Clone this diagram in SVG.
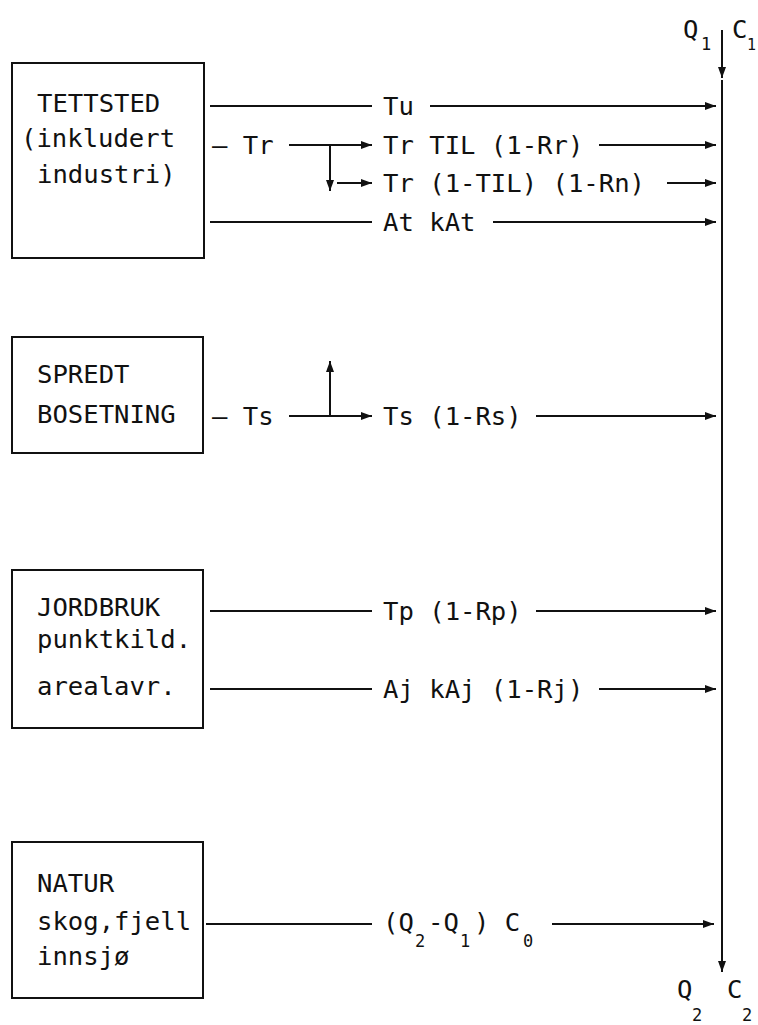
<svg xmlns="http://www.w3.org/2000/svg" width="758" height="1025" viewBox="0 0 758 1025">
<defs>
<marker id="ah" markerUnits="userSpaceOnUse" markerWidth="12" markerHeight="10" refX="11" refY="4" orient="auto">
<path d="M0,0 L11,4 L0,8 z" fill="#111"/>
</marker>
<style>
text{font-family:"DejaVu Sans Mono","Liberation Mono",monospace;font-size:25.6px;fill:#111}
text.sub{font-size:17px}
rect.box{fill:none;stroke:#111;stroke-width:2}
line{stroke:#111;stroke-width:2}
line.a{marker-end:url(#ah)}
</style>
</defs>
<rect width="758" height="1025" fill="#fff"/>

<g id="tettsted">
<rect class="box" x="12" y="63" width="192" height="195"/>
<text x="37" y="112">TETTSTED</text>
<text x="21" y="147">(inkludert</text>
<text x="37" y="183">industri)</text>
</g>

<g id="spredt">
<rect class="box" x="12" y="337" width="191" height="116"/>
<text x="37" y="383">SPREDT</text>
<text x="37" y="423">BOSETNING</text>
</g>

<g id="jordbruk">
<rect class="box" x="12" y="570" width="191" height="158"/>
<text x="37" y="616">JORDBRUK</text>
<text x="37" y="648">punktkild.</text>
<text x="37" y="695">arealavr.</text>
</g>

<g id="natur">
<rect class="box" x="12" y="842" width="191" height="156"/>
<text x="37" y="892">NATUR</text>
<text x="37" y="930">skog,fjell</text>
<text x="37" y="965">innsjø</text>
</g>

<g id="recipient">
<text x="683" y="38">Q</text>
<text class="sub" x="701" y="50">1</text>
<text x="732" y="38">C</text>
<text class="sub" x="747" y="50" style="font-size:15px">1</text>
<text x="677" y="998">Q</text>
<text class="sub" x="692" y="1021">2</text>
<text x="727" y="998">C</text>
<text class="sub" x="742" y="1021">2</text>
</g>

<g id="labels">
<text x="383" y="115">Tu</text>
<text x="212" y="154">— Tr</text>
<text x="383" y="154">Tr TIL (1-Rr)</text>
<text x="383" y="192">Tr (1-TIL) (1-Rn)</text>
<text x="383" y="231">At kAt</text>
<text x="212" y="425">— Ts</text>
<text x="383" y="425">Ts (1-Rs)</text>
<text x="383" y="620">Tp (1-Rp)</text>
<text x="383" y="698">Aj kAj (1-Rj)</text>
<text x="383" y="931">(Q</text>
<text class="sub" x="415" y="947">2</text>
<text x="428" y="931">-Q</text>
<text class="sub" x="460" y="947">1</text>
<text x="474" y="931">) C</text>
<text class="sub" x="523" y="947">0</text>
</g>

<g id="connectors">
<line class="a" x1="722" y1="30" x2="722" y2="78"/>
<line class="a" x1="722" y1="80" x2="722" y2="972"/>

<line x1="210" y1="106" x2="372" y2="106"/>
<line class="a" x1="430" y1="106" x2="716" y2="106"/>

<line class="a" x1="289" y1="145" x2="372" y2="145"/>
<line class="a" x1="599" y1="145" x2="716" y2="145"/>
<line class="a" x1="330" y1="145" x2="330" y2="191"/>
<line class="a" x1="337" y1="183" x2="372" y2="183"/>
<line class="a" x1="667" y1="183" x2="716" y2="183"/>

<line x1="210" y1="222" x2="372" y2="222"/>
<line class="a" x1="493" y1="222" x2="716" y2="222"/>

<line class="a" x1="289" y1="416" x2="372" y2="416"/>
<line class="a" x1="330" y1="416" x2="330" y2="361"/>
<line class="a" x1="536" y1="416" x2="716" y2="416"/>

<line x1="210" y1="611" x2="372" y2="611"/>
<line class="a" x1="536" y1="611" x2="716" y2="611"/>

<line x1="210" y1="689" x2="372" y2="689"/>
<line class="a" x1="599" y1="689" x2="716" y2="689"/>

<line x1="206" y1="924" x2="372" y2="924"/>
<line class="a" x1="552" y1="924" x2="714" y2="924"/>
</g>
</svg>
